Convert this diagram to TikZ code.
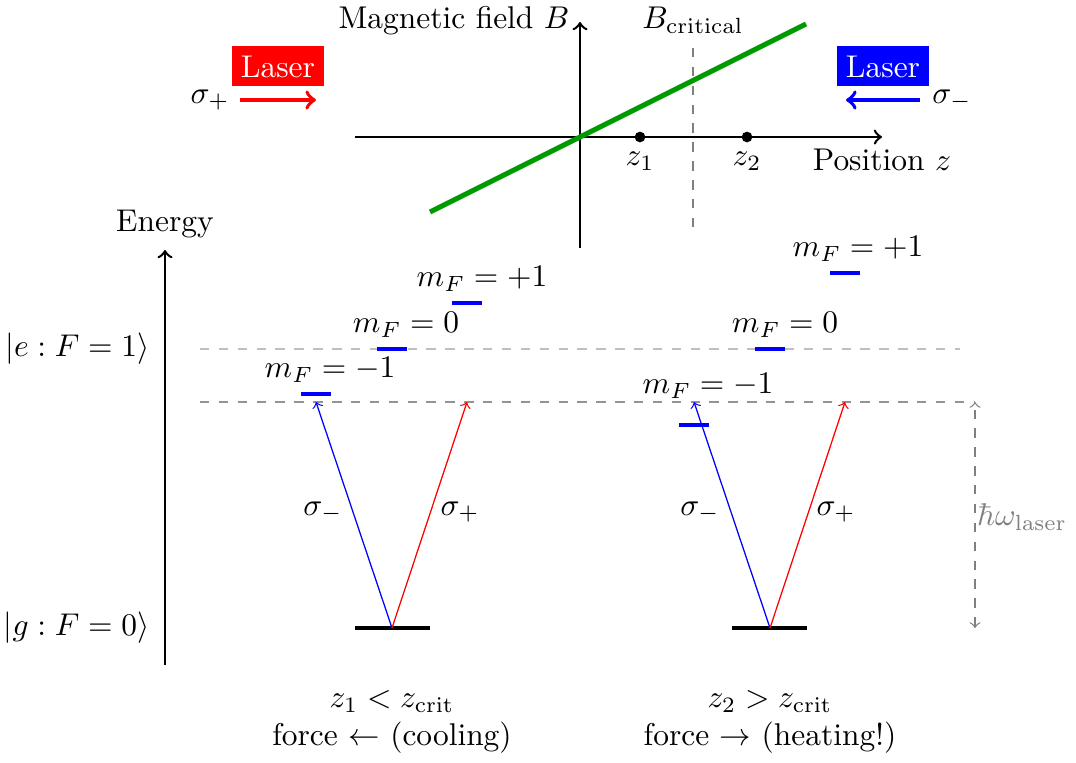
\documentclass[tikz,border=0pt]{standalone}
\begin{document}
\begin{tikzpicture}[x=0.318pt,y=-0.318pt,
  axis/.style={thick,->},
  lvl/.style={blue,line width=1.3pt},
  gnd/.style={black,line width=1.2pt},
  trans/.style={->,thin},
  laserbox/.style={fill=#1,text=white,inner sep=3pt,text height=7pt,text depth=0pt},
  dot/.style={circle,fill=black,inner sep=0pt,minimum size=3.4pt}]
\useasboundingbox (0,0) rectangle (1076,762);

% ---------- top: magnetic field plot ----------
\coordinate (zL) at (355,137); \coordinate (zR) at (882,137);
\coordinate (bB) at (580,248); \coordinate (bT) at (580,22);
\draw[axis] (zL) -- (zR);
\draw[axis] (bB) -- (bT);
\coordinate (gA) at (430,212); \coordinate (gB) at (806,24);
\draw[green!60!black,line width=1.6pt] (gA) -- (gB);
\coordinate (cA) at (693,48); \coordinate (cB) at (693,228);
\draw[gray,dashed] (cA) -- (cB);
\node[dot] (z1dot) at (640,137) {};
\node[dot] (z2dot) at (747,137) {};
\node (z1lab) at (640,161) {$z_1$};
\node (z2lab) at (747,161) {$z_2$};
\node (poslab) at (882,160) {Position $z$};
\node (blab) at (454,21) {Magnetic field $B$};
\node (bcrit) at (693,20) {$B_{\mathrm{critical}}$};

% lasers
\node[laserbox=red] (laserL) at (278,66) {Laser};
\node[laserbox=blue] (laserR) at (883,66) {Laser};
\node (sigL) at (210,100) {$\sigma_+$};
\node (sigR) at (952,100) {$\sigma_-$};
\coordinate (rA) at (240,100); \coordinate (rB) at (316,100);
\coordinate (bA) at (920,100); \coordinate (bBB) at (846,100);
\draw[red,very thick,->] (rA) -- (rB);
\draw[blue,very thick,->] (bA) -- (bBB);

% ---------- energy diagram ----------
\coordinate (eB) at (165,665); \coordinate (eT) at (165,250);
\draw[axis] (eB) -- (eT);
\node (energy) at (165,224) {Energy};
\node[anchor=east,inner sep=0pt] (eket) at (150,349) {$|e:F=1\rangle$};
\node[anchor=east,inner sep=0pt] (gket) at (150,628) {$|g:F=0\rangle$};

\coordinate (d1L) at (200,349); \coordinate (d1R) at (960,349);
\draw[gray!50,dashed] (d1L) -- (d1R);
\coordinate (d2L) at (200,402); \coordinate (d2R) at (975,402);
\draw[gray!85,dashed] (d2L) -- (d2R);
\coordinate (hT) at (975,402); \coordinate (hB) at (975,628);
\draw[gray,dashed,<->] (hB) -- (hT);
\node[gray] (hbar) at (1022,517) {$\hbar\omega_{\mathrm{laser}}$};

% left group (z1)
\coordinate (gl1) at (355,628); \coordinate (gl2) at (430,628);
\draw[gnd] (gl1) -- (gl2);
\coordinate (Lm1a) at (301,394); \coordinate (Lm1b) at (331,394);
\coordinate (L0a) at (377,349); \coordinate (L0b) at (407,349);
\coordinate (Lp1a) at (452,303); \coordinate (Lp1b) at (482,303);
\draw[lvl] (Lm1a) -- (Lm1b);
\draw[lvl] (L0a) -- (L0b);
\draw[lvl] (Lp1a) -- (Lp1b);
\node (Lm1lab) at (330,370) {$m_F=-1$};
\node (L0lab) at (406,325) {$m_F=0$};
\node (Lp1lab) at (482,279) {$m_F=+1$};
\coordinate (Lg) at (392,628);
\coordinate (Lt1) at (316,402); \coordinate (Lt2) at (467,402);
\draw[trans,blue] (Lg) -- (Lt1);
\draw[trans,red] (Lg) -- (Lt2);
\node (Lsm) at (323,512) {$\sigma_-$};
\node (Lsp) at (460,512) {$\sigma_+$};
\node[align=center] (Lcap) at (392,722) {$z_1<z_{\mathrm{crit}}$\\force $\leftarrow$ (cooling)};

% right group (z2)
\coordinate (gr1) at (732,628); \coordinate (gr2) at (807,628);
\draw[gnd] (gr1) -- (gr2);
\coordinate (Rm1a) at (679,425); \coordinate (Rm1b) at (709,425);
\coordinate (R0a) at (755,349); \coordinate (R0b) at (785,349);
\coordinate (Rp1a) at (830,273); \coordinate (Rp1b) at (860,273);
\draw[lvl] (Rm1a) -- (Rm1b);
\draw[lvl] (R0a) -- (R0b);
\draw[lvl] (Rp1a) -- (Rp1b);
\node (Rm1lab) at (708,386) {$m_F=-1$};
\node (R0lab) at (785,325) {$m_F=0$};
\node (Rp1lab) at (858,249) {$m_F=+1$};
\coordinate (Rg) at (770,628);
\coordinate (Rt1) at (694,402); \coordinate (Rt2) at (845,402);
\draw[trans,blue] (Rg) -- (Rt1);
\draw[trans,red] (Rg) -- (Rt2);
\node (Rsm) at (700,512) {$\sigma_-$};
\node (Rsp) at (836,512) {$\sigma_+$};
\node[align=center] (Rcap) at (770,722) {$z_2>z_{\mathrm{crit}}$\\force $\rightarrow$ (heating!)};
\end{tikzpicture}
\end{document}
